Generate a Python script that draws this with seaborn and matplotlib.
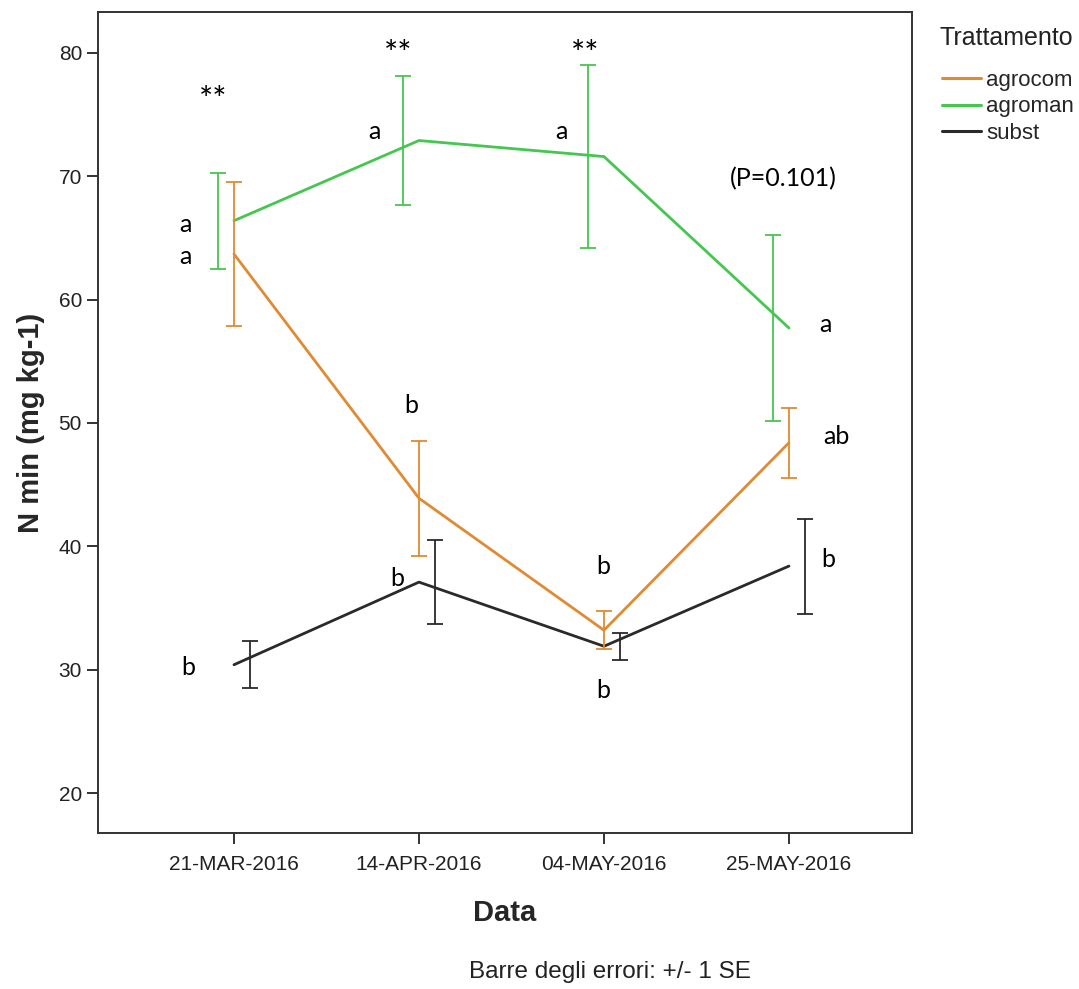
import numpy as np
import pandas as pd
import seaborn as sns
import matplotlib
matplotlib.use("Agg")
import matplotlib.pyplot as plt

# ---- data ----
dates = ["21-MAR-2016", "14-APR-2016", "04-MAY-2016", "25-MAY-2016"]
groups = ["agrocom", "agroman", "subst"]
agrocom_mean = [63.7, 43.9, 33.2, 48.4]
agrocom_se = [5.85, 4.65, 1.55, 2.85]
agroman_mean = [66.4, 72.9, 71.6, 57.7]
agroman_se = [3.9, 5.25, 7.45, 7.55]
subst_mean = [30.4, 37.1, 31.9, 38.4]
subst_se = [1.9, 3.4, 1.1, 3.85]

# significance letters: (text, category index, x shift, y value)
ann_text = ["**", "**", "**", "(P=0.101)",
            "a", "a", "a", "a", "a",
            "b", "b", "b", "b", "b", "ab", "b"]
ann_cat = [0, 1, 2, 3, 0, 0, 1, 2, 3, 1, 1, 2, 2, 0, 3, 3]
ann_dx = [-0.11, -0.11, -0.10, -0.03, -0.26, -0.26, -0.24, -0.23, 0.195,
          -0.04, -0.12, -0.005, -0.005, -0.245, 0.255, 0.21]
ann_y = [76.1, 79.8, 79.8, 69.8, 66.1, 63.5, 73.6, 73.6, 58.0,
         51.4, 37.4, 38.4, 28.3, 30.2, 48.9, 38.9]
ann_size = [24, 24, 24, 18, 18, 18, 18, 18, 18, 18, 18, 18, 18, 18, 18, 18]

colors = {"agrocom": "#E08A33", "agroman": "#45C650", "subst": "#2A2A2A"}
dodge = {"agrocom": 0.0, "agroman": -0.087, "subst": 0.087}

means = {"agrocom": agrocom_mean, "agroman": agroman_mean, "subst": subst_mean}
ses = {"agrocom": agrocom_se, "agroman": agroman_se, "subst": subst_se}

df = pd.DataFrame({
    "pos": np.tile(np.arange(len(dates)), len(groups)),
    "N": agrocom_mean + agroman_mean + subst_mean,
    "Trattamento": np.repeat(groups, len(dates)),
})

sns.set_style("white")
plt.rcParams["font.family"] = ["Liberation Sans", "DejaVu Sans"]

fig = plt.figure(figsize=(10.79, 9.89), dpi=100)
ax = fig.add_axes([98 / 1079, 1 - 833 / 989, (912 - 98) / 1079, (833 - 12) / 989])

sns.lineplot(data=df, x="pos", y="N", hue="Trattamento", palette=colors,
             hue_order=groups, linewidth=2.0, errorbar=None, ax=ax)

for g in groups:
    x = np.arange(len(dates)) + dodge[g]
    ax.errorbar(x, means[g], yerr=ses[g], fmt="none", ecolor=colors[g],
                elinewidth=1.3, capsize=5.5, capthick=1.3, zorder=3)

for t, c, dx, y, fs in zip(ann_text, ann_cat, ann_dx, ann_y, ann_size):
    ax.text(c + dx, y, t, ha="center", va="center", fontsize=fs,
            family=["Lato", "DejaVu Sans"], color="black")

ax.set_xlim(-0.735, 3.665)
ax.set_ylim(16.76, 83.32)
ax.set_xticks(range(len(dates)))
ax.set_xticklabels(dates)
ax.set_yticks([20, 30, 40, 50, 60, 70, 80])
ax.tick_params(axis="both", which="major", direction="out", length=8, width=1.3,
               color="#222222", labelsize=15, labelcolor="#222222", bottom=True, left=True)
ax.tick_params(axis="x", pad=8)
for s in ax.spines.values():
    s.set_visible(True)
    s.set_color("#333333")
    s.set_linewidth(1.4)

ax.set_xlabel("Data", fontsize=21, fontweight="bold", labelpad=18)
ax.set_ylabel("N min (mg kg-1)", fontsize=21, fontweight="bold", labelpad=10)

handles, labels = ax.get_legend_handles_labels()
leg = ax.legend(handles, labels, loc="upper left",
                bbox_to_anchor=(942 / 1079, 1 - 70 / 989), bbox_transform=fig.transFigure,
                frameon=False, fontsize=16, handlelength=1.75,
                handletextpad=0.25, labelspacing=0.24, borderpad=0, borderaxespad=0)
for h in leg.get_lines():
    h.set_linewidth(2.2)
fig.text(940 / 1079, 1 - 38 / 989, "Trattamento", ha="left", va="center",
         fontsize=18, color="#222222")

fig.text(610 / 1079, 1 - 972 / 989, "Barre degli errori: +/- 1 SE", ha="center",
         va="center", fontsize=17.5, color="#222222")

fig.savefig("out.png", dpi=100)
